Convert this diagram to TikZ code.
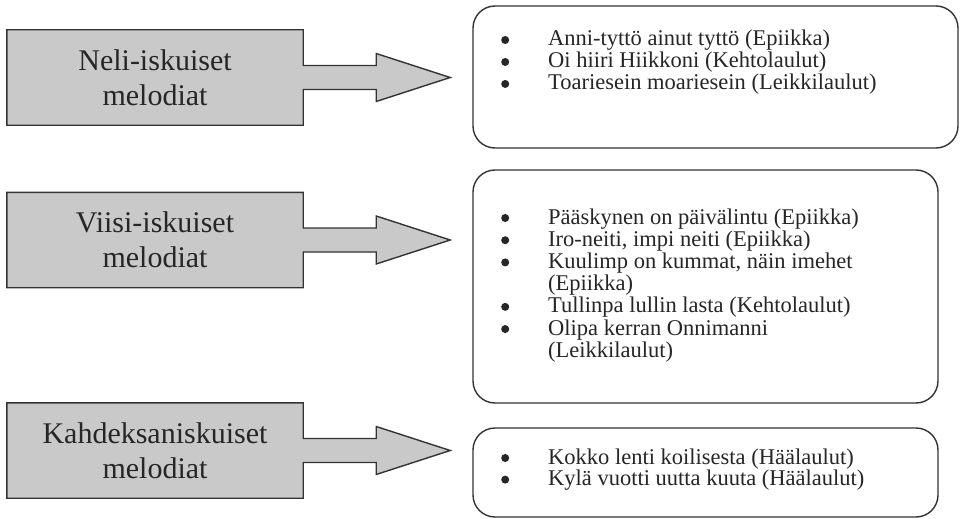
\documentclass[tikz,border=0pt]{standalone}
\usepackage{fontspec}
\setmainfont{Liberation Serif}
\usetikzlibrary{calc,backgrounds}
\definecolor{ink}{HTML}{333333}
\definecolor{txt}{HTML}{262626}
\definecolor{arrowgray}{HTML}{C9C9C9}
\newcommand\bigarrow[2]{%
  \draw[arrowshape] (#1.north west) -- (#1.north east) -- ($(#1.east)+(0,-12)$)
    -- ($(#1.east)+(73,-12)$) -- ($(#1.east)+(73,-24)$) -- (#2)
    -- ($(#1.east)+(73,24)$) -- ($(#1.east)+(73,12)$) -- ($(#1.east)+(0,12)$)
    -- (#1.south east) -- (#1.south west) -- cycle;}
\newcommand\blt{\hspace*{4pt}\tikz[baseline=-6pt,x=1pt,y=1pt]\fill[txt] (4pt,0pt) circle[radius=4pt];}
\begin{document}
\begin{tikzpicture}[x=1pt,y=-1pt,
  catlabel/.style={minimum width=296pt, minimum height=95pt, inner sep=0pt, align=center,
    font=\fontsize{30}{35}\selectfont, text=txt},
  arrowshape/.style={fill=arrowgray, draw=ink, line width=1.4pt, line join=miter},
  listbox/.style={draw=ink, line width=1.4pt, rounded corners=22pt, inner sep=0pt},
  listtext/.style={anchor=base west, inner sep=0pt, text=txt}]
\useasboundingbox (0,0) rectangle (962,519);

% category labels
\node[catlabel] (L1) at (155,77.5) {Neli-iskuiset\\melodiat};
\node[catlabel] (L2) at (155,240) {Viisi-iskuiset\\melodiat};
\node[catlabel] (L3) at (155,450.5) {Kahdeksaniskuiset\\melodiat};

\coordinate (T1) at ($(L1.east)+(147,0)$);
\coordinate (T2) at ($(L2.east)+(147,0)$);
\coordinate (T3) at ($(L3.east)+(147,0)$);

\begin{scope}[on background layer]
  \fill[white] (0,0) rectangle (962,519);
  \bigarrow{L1}{T1}
  \bigarrow{L2}{T2}
  \bigarrow{L3}{T3}
\end{scope}

% list boxes
\node[listbox, minimum width=485pt, minimum height=142pt] (B1) at (715.5,77) {};
\node[listbox, minimum width=465pt, minimum height=233pt] (B2) at (705.5,286.5) {};
\node[listbox, minimum width=465pt, minimum height=89pt] (B3) at (705.5,472.5) {};

\node[listtext, font=\fontsize{22.5}{21.2}\selectfont] (X1) at (497,46) {%
  \begin{tabular}[t]{@{}p{51pt}@{}l@{}}
  \blt & Anni-tyttö ainut tyttö (Epiikka)\\
  \blt & Oi hiiri Hiikkoni (Kehtolaulut)\\
  \blt & Toariesein moariesein (Leikkilaulut)
  \end{tabular}};

\node[listtext, font=\fontsize{22.5}{22}\selectfont] (X2) at (497,224) {%
  \begin{tabular}[t]{@{}p{51pt}@{}l@{}}
  \blt & Pääskynen on päivälintu (Epiikka)\\
  \blt & Iro-neiti, impi neiti (Epiikka)\\
  \blt & Kuulimp on kummat, näin imehet\\
   & (Epiikka)\\
  \blt & Tullinpa lullin lasta (Kehtolaulut)\\
  \blt & Olipa kerran Onnimanni\\
   & (Leikkilaulut)
  \end{tabular}};

\node[listtext, font=\fontsize{22.5}{20}\selectfont] (X3) at (497,464) {%
  \begin{tabular}[t]{@{}p{51pt}@{}l@{}}
  \blt & Kokko lenti koilisesta (Häälaulut)\\
  \blt & Kylä vuotti uutta kuuta (Häälaulut)
  \end{tabular}};
\end{tikzpicture}
\end{document}
